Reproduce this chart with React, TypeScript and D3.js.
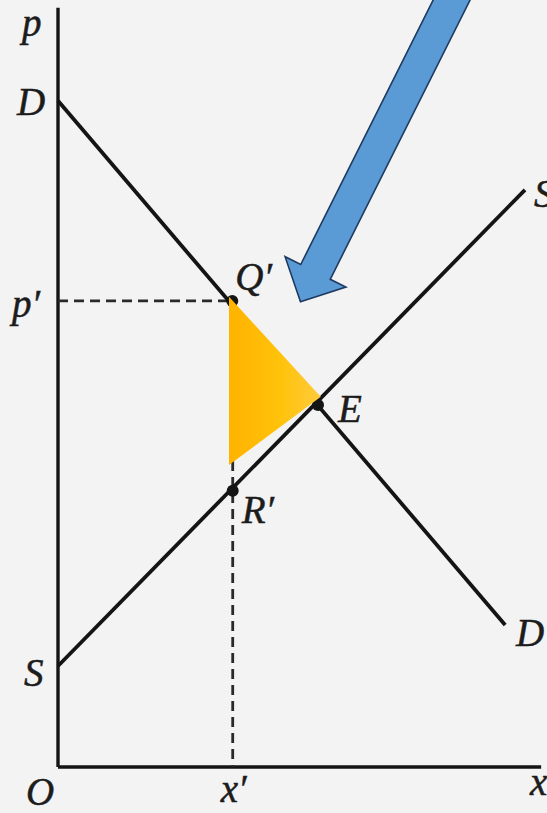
import React from "react";
import * as d3 from "d3";

// ---- data (economic units) ----
const axisExtent = { xMax: 104.8, yMax: 164.7 };
const demandLine: [number, number][] = [[0, 144.5], [97.0, 30.8]];
const supplyLine: [number, number][] = [[0, 21.9], [101.3, 125.2]];
const pointNames = ["Q′", "E", "R′"];
const pointX = [37.8, 56.4, 37.9];
const pointY = [101.1, 78.5, 59.9];
const pPrime = 101.1;
const xPrime = 37.9;
const triangleX = [37.1, 57.0, 37.1];
const triangleY = [102.0, 80.3, 65.5];
const arrowTail: [number, number] = [86.7, 169.0];
const arrowTip: [number, number] = [52.6, 100.9];

const W = 547;
const H = 813;
const x = d3.scaleLinear().domain([0, 100]).range([58, 519]);
const y = d3.scaleLinear().domain([0, 100]).range([767, 306]);

const INK = "#141414";
const FONT = "'Liberation Serif', 'DejaVu Serif', serif";

function arrowPath(): string {
  const tx = x(arrowTail[0]), ty = y(arrowTail[1]);
  const px = x(arrowTip[0]), py = y(arrowTip[1]);
  const len = Math.hypot(px - tx, py - ty);
  const ux = (px - tx) / len, uy = (py - ty) / len;
  const nx = -uy, ny = ux;
  const w = 16.5, h = 34, L = 33.5;
  const bx = px - ux * L, by = py - uy * L;
  const pts: [number, number][] = [
    [tx + nx * w, ty + ny * w],
    [bx + nx * w, by + ny * w],
    [bx + nx * h, by + ny * h],
    [px, py],
    [bx - nx * h, by - ny * h],
    [bx - nx * w, by - ny * w],
    [tx - nx * w, ty - ny * w],
  ];
  return "M" + pts.map((p) => p.join(",")).join("L") + "Z";
}

export default function App() {
  const line = d3.line<[number, number]>().x((d) => x(d[0])).y((d) => y(d[1]));
  const tri = d3
    .line<number>()
    .x((i) => x(triangleX[i]))
    .y((i) => y(triangleY[i]));
  const labelStyle: React.CSSProperties = {
    fontFamily: FONT,
    fontStyle: "italic",
    fontSize: 39,
    fill: "#1c1c1c",
    stroke: "#1c1c1c",
    strokeWidth: 0.5,
  };
  return (
    <svg
      width={W}
      height={H}
      style={{ position: "absolute", left: 0, top: 0 }}
      xmlns="http://www.w3.org/2000/svg"
    >
      <defs>
        <linearGradient id="triGrad" x1="0" x2="1" y1="0" y2="0">
          <stop offset="0%" stopColor="#FFB300" />
          <stop offset="55%" stopColor="#FFC20A" />
          <stop offset="100%" stopColor="#FFCB3C" />
        </linearGradient>
      </defs>
      <rect x={0} y={0} width={W} height={H} fill="#f3f3f3" />

      {/* axes */}
      <line x1={x(0)} y1={y(0)} x2={x(0)} y2={y(axisExtent.yMax)} stroke={INK} strokeWidth={3.4} />
      <line x1={x(0)} y1={y(0)} x2={x(axisExtent.xMax)} y2={y(0)} stroke={INK} strokeWidth={3.4} />

      {/* dashed guides */}
      <line
        x1={x(0)} y1={y(pPrime)} x2={x(pointX[0])} y2={y(pPrime)}
        stroke="#2a2a2a" strokeWidth={2.8} strokeDasharray="10,6"
      />
      <line
        x1={x(xPrime)} y1={y(pPrime)} x2={x(xPrime)} y2={y(0)}
        stroke="#2a2a2a" strokeWidth={2.8} strokeDasharray="10,6"
      />

      {/* demand & supply */}
      <path d={line(demandLine) || ""} fill="none" stroke={INK} strokeWidth={3.8} />
      <path d={line(supplyLine) || ""} fill="none" stroke={INK} strokeWidth={3.8} />

      {/* points */}
      {pointNames.map((n, i) => (
        <circle key={n} cx={x(pointX[i])} cy={y(pointY[i])} r={6} fill={INK} />
      ))}

      {/* labels */}
      <text x={22} y={36} style={labelStyle}>p</text>
      <text x={17} y={115} style={labelStyle}>D</text>
      <text x={12} y={317} style={labelStyle}>p′</text>
      <text x={x(pointX[0]) + 3} y={y(pointY[0]) - 11} style={labelStyle}>{pointNames[0]}</text>
      <text x={x(pointX[1]) + 20} y={y(pointY[1]) + 17} style={labelStyle}>{pointNames[1]}</text>
      <text x={x(pointX[2]) + 9} y={y(pointY[2]) + 32} style={labelStyle}>{pointNames[2]}</text>
      <text x={24} y={686} style={labelStyle}>S</text>
      <text x={516} y={646} style={labelStyle}>D</text>
      <text x={534} y={207} style={labelStyle}>S</text>
      <text x={26} y={805} style={labelStyle}>O</text>
      <text x={x(xPrime) - 12} y={802} style={labelStyle}>x′</text>
      <text x={530} y={795} style={labelStyle}>x</text>

      {/* highlighted triangle */}
      <path d={(tri([0, 1, 2]) || "") + "Z"} fill="url(#triGrad)" />

      {/* blue arrow */}
      <path d={arrowPath()} fill="#5B9BD5" stroke="#1F3A60" strokeWidth={1.6} strokeLinejoin="miter" />
    </svg>
  );
}
